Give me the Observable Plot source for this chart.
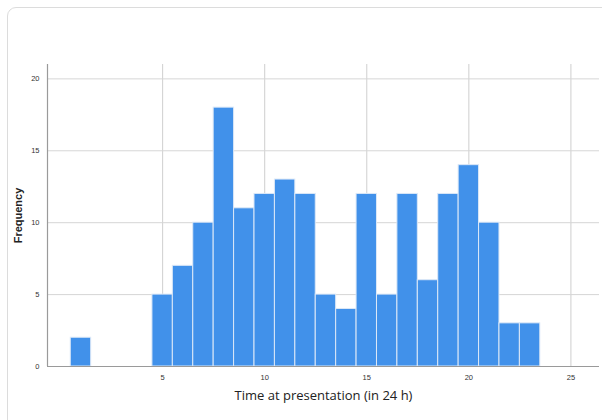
<!DOCTYPE html>
<html>
<head>
<meta charset="utf-8">
<script src="https://cdn.jsdelivr.net/npm/d3@7"></script>
<script src="https://cdn.jsdelivr.net/npm/@observablehq/plot@0.6"></script>
<style>
  html, body { margin: 0; padding: 0; background: #fff; width: 602px; height: 420px; overflow: hidden; }
  #card { position: absolute; left: 7px; top: 7px; width: 640px; height: 460px; border: 1px solid #dcdcdc; border-radius: 9px; box-sizing: border-box; }
  #chart { position: absolute; left: 0; top: 0; }
</style>
</head>
<body>
<div id="card"></div>
<div id="chart"></div>
<script>
const hours  = [1, 5, 6, 7, 8, 9, 10, 11, 12, 13, 14, 15, 16, 17, 18, 19, 20, 21, 22, 23];
const counts = [2, 5, 7, 10, 18, 11, 12, 13, 12, 5, 4, 12, 5, 12, 6, 12, 14, 10, 3, 3];
const xTicks = [5, 10, 15, 20, 25];
const yTicks = [0, 5, 10, 15, 20];
const xTitle = "Time at presentation (in 24 h)";
const yTitle = "Frequency";

const data = hours.map((h, i) => ({hour: h, count: counts[i]}));

const chart = Plot.plot({
  width: 602,
  height: 420,
  marginLeft: 47,
  marginRight: 3,
  marginTop: 64,
  marginBottom: 54,
  style: {background: "transparent", fontFamily: "Arial, 'Liberation Sans', sans-serif"},
  x: {domain: [-0.64, 26.4], axis: null},
  y: {domain: [0, 21], axis: null},
  marks: [
    Plot.ruleX(xTicks, {x: d => d, y1: 0, y2: 21, stroke: "#cfcfcf", strokeWidth: 1}),
    Plot.ruleY(yTicks.filter(d => d > 0), {y: d => d, stroke: "#d6d6d6", strokeWidth: 1}),
    Plot.rectY(data, {
      x1: d => d.hour - 0.5,
      x2: d => d.hour + 0.5,
      y1: 0,
      y2: "count",
      fill: "#4191ea",
      stroke: "#dce8f7",
      strokeWidth: 1
    }),
    Plot.ruleY([0], {stroke: "#9a9a9a", strokeWidth: 1.2}),
    Plot.ruleX([-0.64], {y1: 0, y2: 21, stroke: "#9a9a9a", strokeWidth: 1.2}),
    Plot.axisX(xTicks, {tickSize: 0, tickPadding: 8, fontSize: 7.5, fill: "#333", label: null}),
    Plot.axisY(yTicks, {tickSize: 0, tickPadding: 8, fontSize: 7.5, fill: "#333", label: null}),
    Plot.text([xTitle], {frameAnchor: "bottom", dy: 33, fontSize: 13, fill: "#222", fontFamily: "'Open Sans', sans-serif"}),
    Plot.text([yTitle], {frameAnchor: "left", textAnchor: "middle", dx: -29, rotate: -90, fontSize: 11, fontWeight: "bold", fill: "#222"})
  ]
});
document.getElementById("chart").appendChild(chart);
</script>
</body>
</html>
